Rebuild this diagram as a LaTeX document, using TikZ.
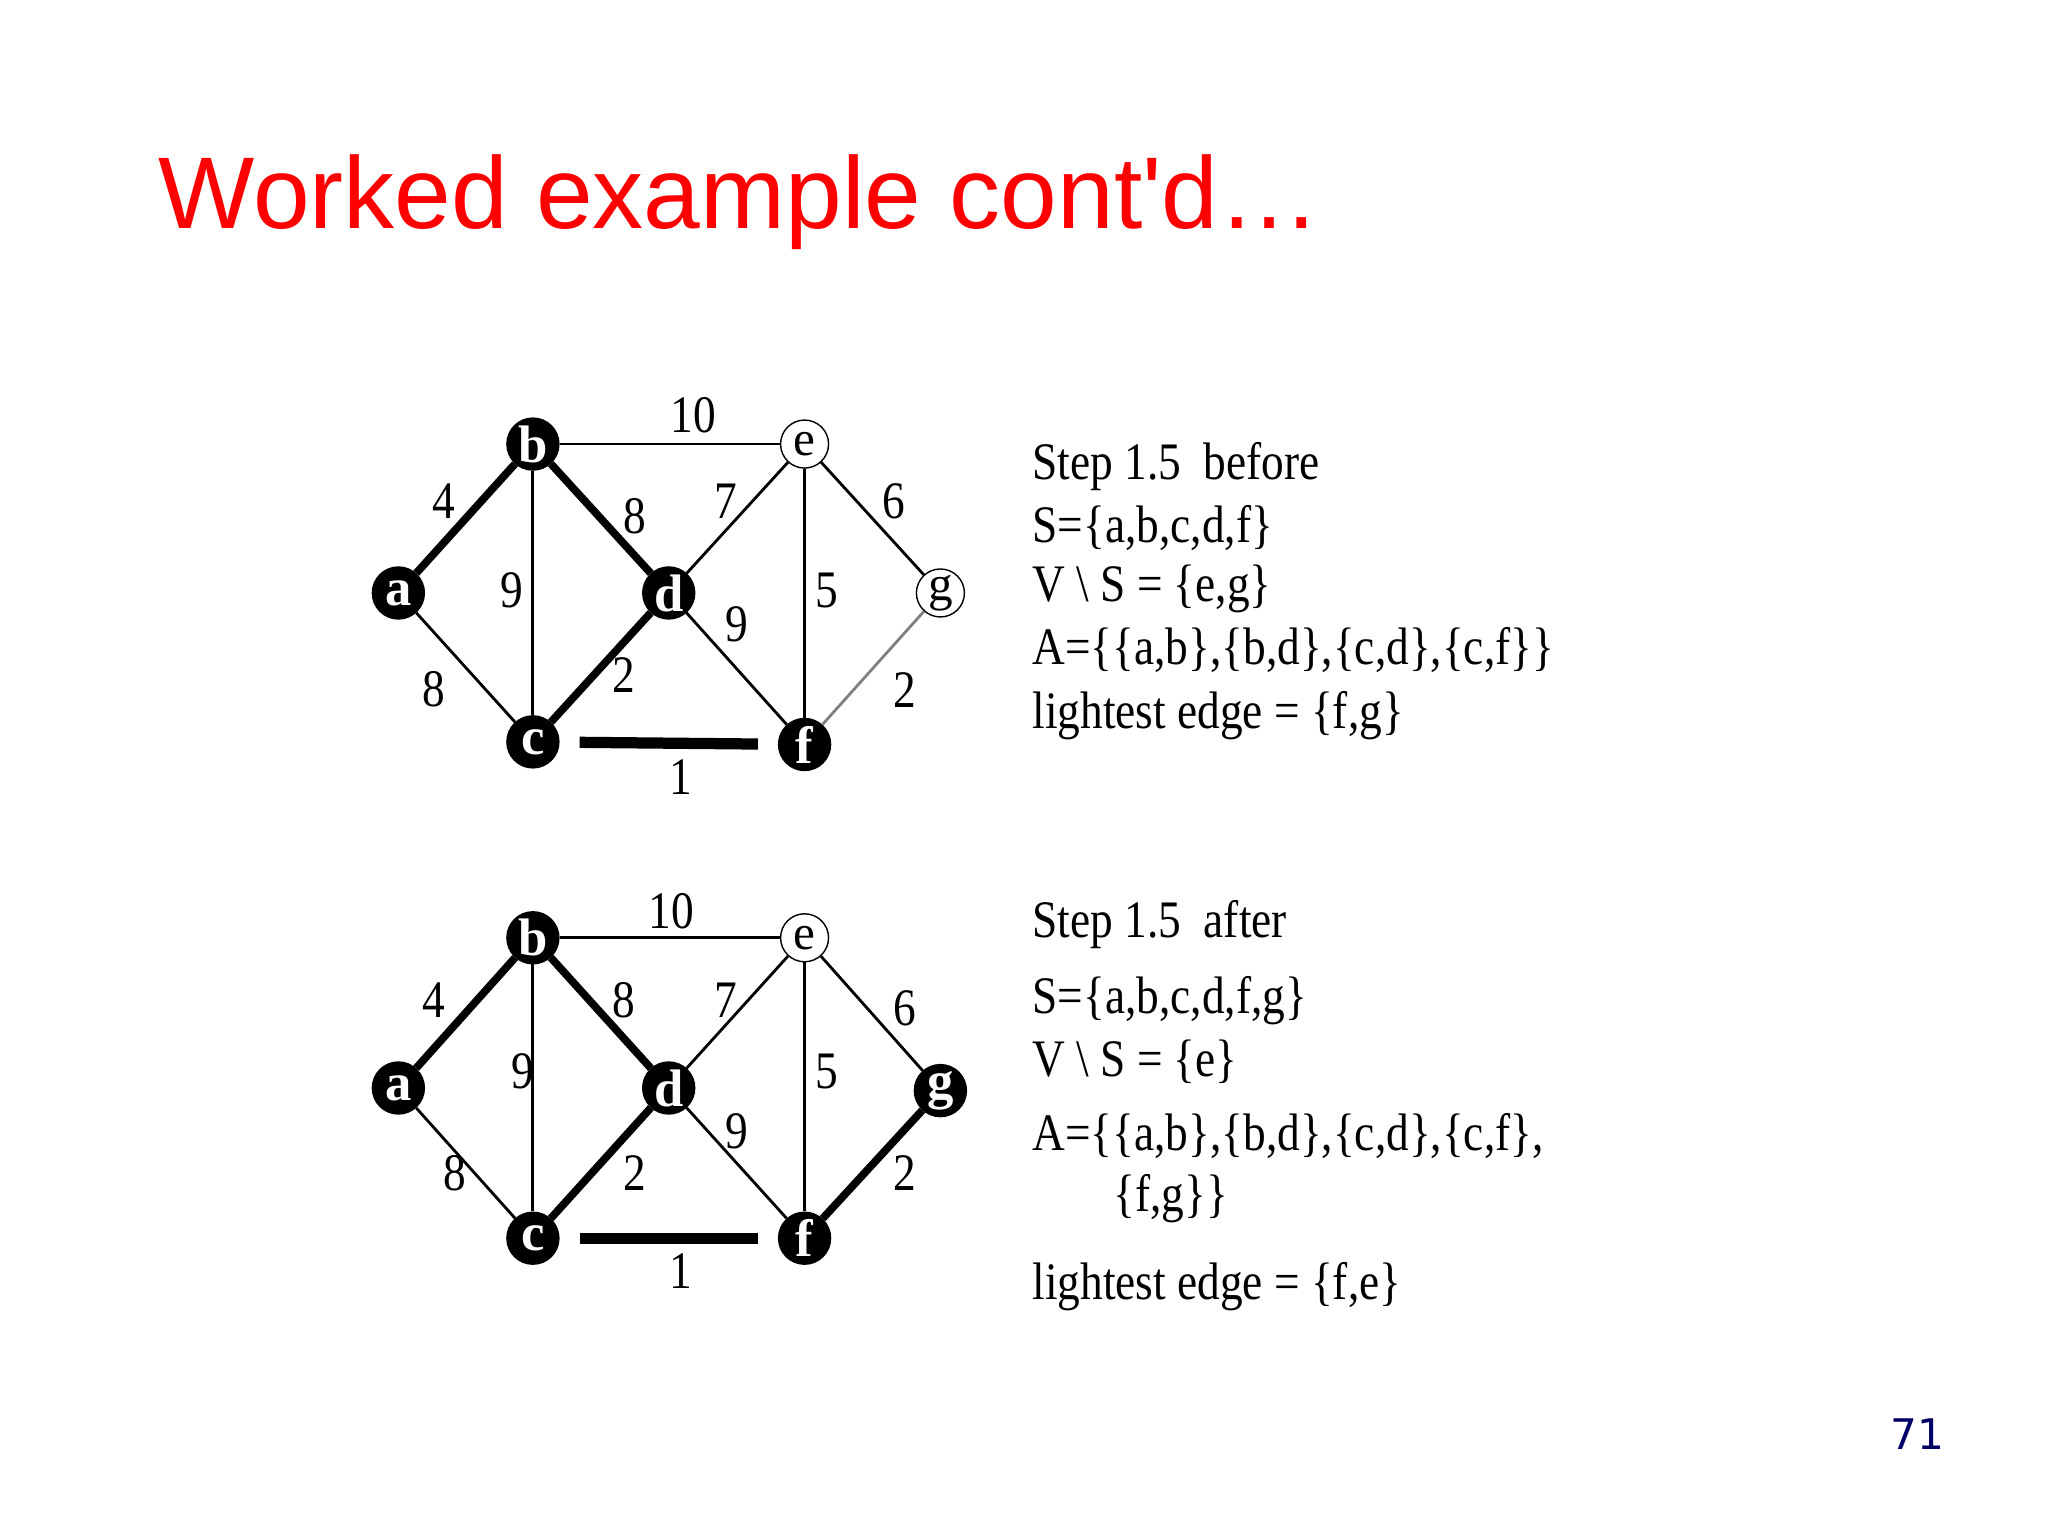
\documentclass[tikz,border=0pt]{standalone}
\usepackage{fontspec}
\setmainfont{Liberation Serif}
\newfontfamily\narrowfont[FakeStretch=0.86]{Liberation Serif}
\newfontfamily\titlefont{Liberation Sans}
\newfontfamily\numfont{DejaVu Sans}
\begin{document}
\begin{tikzpicture}[x=0.01306cm,y=-0.01306cm,
  vb/.style={circle,fill=black,draw=black,inner sep=0pt,minimum size=0.52cm,text=white,font=\fontsize{15}{15}\selectfont\bfseries},
  vw/.style={circle,fill=white,draw=black,inner sep=0pt,minimum size=0.48cm,text=black,font=\fontsize{14}{14}\selectfont},
  thin/.style={line width=0.8pt},
  tree/.style={line width=2.2pt},
  mst/.style={line width=3.2pt,shorten <=0.2cm,shorten >=0.2cm},
  wl/.style={font=\narrowfont\fontsize{15}{15}\selectfont},
  txt/.style={anchor=west,inner sep=0pt,font=\narrowfont\fontsize{15}{15}\selectfont}]
\useasboundingbox (0,0) rectangle (1568,1176);
\node[anchor=west,text=red,font=\titlefont\fontsize{29}{29}\selectfont] (title) at (112,155) {Worked example cont'd\ldots};
% top graph
\node[vb] (ta) at (305,454) {a};
\node[vb] (tb) at (408,340) {b};
\node[vb] (tc) at (408,568) {c};
\node[vb] (td) at (512,454) {d};
\node[vw] (te) at (616,340) {e};
\node[vb] (tf) at (616,570) {f};
\node[vw] (tg) at (720,454) {g};
\draw[tree] (ta)--(tb); \draw[thin] (ta)--(tc); \draw[thin] (tb)--(tc);
\draw[tree] (tb)--(td); \draw[thin] (tb)--(te); \draw[thin] (td)--(te);
\draw[tree] (td)--(tc); \draw[thin] (td)--(tf); \draw[mst] (tc)--(tf);
\draw[thin] (te)--(tf); \draw[thin] (te)--(tg); \draw[thin,gray] (tg)--(tf);
\node[wl] (tl1) at (531,318) {10}; \node[wl] (tl2) at (340,384) {4};
\node[wl] (tl3) at (392,452) {9}; \node[wl] (tl4) at (486,395) {8};
\node[wl] (tl5) at (556,384) {7}; \node[wl] (tl6) at (684,384) {6};
\node[wl] (tl7) at (633,452) {5}; \node[wl] (tl8) at (564,478) {9};
\node[wl] (tl9) at (478,517) {2}; \node[wl] (tl10) at (332,528) {8};
\node[wl] (tl11) at (693,528) {2}; \node[wl] (tl12) at (521,595) {1};
\node[txt] (t1) at (790,357) {Step 1.5\ \ before};
\node[txt] (t2) at (790,404) {S=\{a,b,c,d,f\}};
\node[txt] (t3) at (790,451) {V \textbackslash\ S = \{e,g\}};
\node[txt] (t4) at (790,498) {A=\{\{a,b\},\{b,d\},\{c,d\},\{c,f\}\}};
\node[txt] (t5) at (790,548) {lightest edge = \{f,g\}};
% bottom graph
\node[vb] (ba) at (305,833) {a};
\node[vb] (bb) at (408,718) {b};
\node[vb] (bc) at (408,948) {c};
\node[vb] (bd) at (512,833) {d};
\node[vw] (be) at (616,718) {e};
\node[vb] (bf) at (616,948) {f};
\node[vb] (bg) at (720,835) {g};
\draw[tree] (ba)--(bb); \draw[thin] (ba)--(bc); \draw[thin] (bb)--(bc);
\draw[tree] (bb)--(bd); \draw[thin] (bb)--(be); \draw[thin] (bd)--(be);
\draw[tree] (bd)--(bc); \draw[thin] (bd)--(bf); \draw[mst] (bc)--(bf);
\draw[thin] (be)--(bf); \draw[thin] (be)--(bg); \draw[tree] (bg)--(bf);
\node[wl] (bl1) at (514,698) {10}; \node[wl] (bl2) at (332,766) {4};
\node[wl] (bl3) at (400,820) {9}; \node[wl] (bl4) at (478,766) {8};
\node[wl] (bl5) at (556,766) {7}; \node[wl] (bl6) at (693,772) {6};
\node[wl] (bl7) at (633,820) {5}; \node[wl] (bl8) at (564,866) {9};
\node[wl] (bl9) at (486,898) {2}; \node[wl] (bl10) at (348,898) {8};
\node[wl] (bl11) at (693,898) {2}; \node[wl] (bl12) at (521,973) {1};
\node[txt] (u1) at (790,708) {Step 1.5\ \ after};
\node[txt] (u2) at (790,766) {S=\{a,b,c,d,f,g\}};
\node[txt] (u3) at (790,813) {V \textbackslash\ S = \{e\}};
\node[txt] (u4) at (790,870) {A=\{\{a,b\},\{b,d\},\{c,d\},\{c,f\},};
\node[txt] (u5) at (852,918) {\{f,g\}\}};
\node[txt] (u6) at (790,985) {lightest edge = \{f,e\}};
\node[text=blue!40!black,font=\numfont\fontsize{12}{12}\selectfont] (pg) at (1468,1098) {71};
\end{tikzpicture}
\end{document}
